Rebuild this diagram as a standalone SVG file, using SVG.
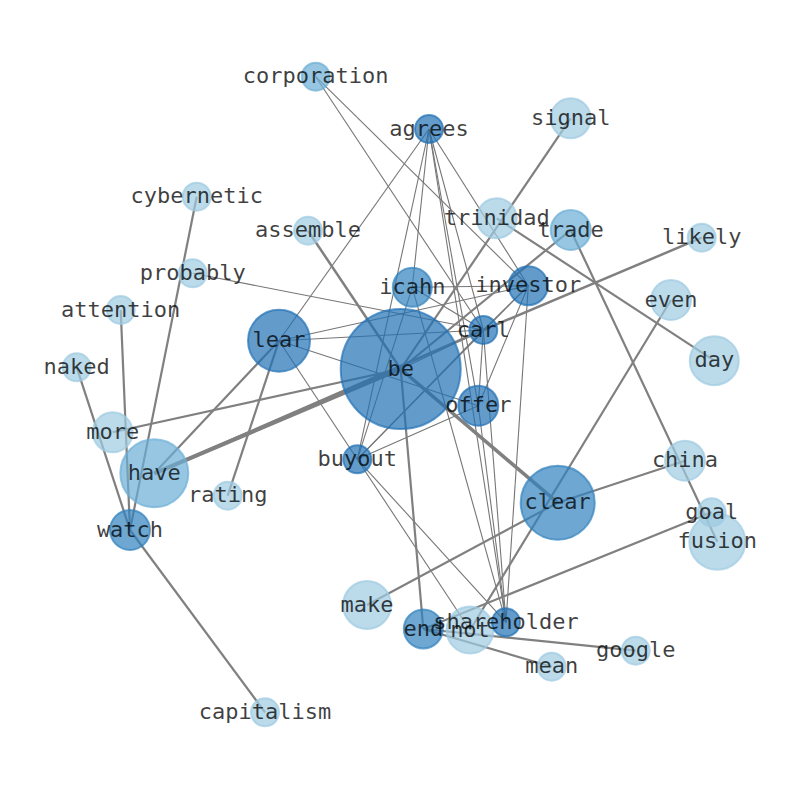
<svg xmlns="http://www.w3.org/2000/svg" width="794" height="790" viewBox="0 0 794 790">
<style>
.e{stroke:#808080;fill:none;stroke-linecap:butt}
.t{stroke-width:1.1;stroke:#767676}
.k{stroke-width:2.2}
.n circle{stroke-width:2;fill-opacity:0.7;stroke-opacity:0.7}
.L{fill:#9ecae1;stroke:#9ecae1}
.M{fill:#6baed6;stroke:#6baed6}
.D2{fill:#3182bd;stroke:#3182bd}
.D{fill:#2171b5;stroke:#2171b5}
text{font-family:"DejaVu Sans Mono",monospace;font-size:22px;fill:#000;fill-opacity:0.75;text-anchor:middle}
</style>
<rect width="794" height="790" fill="#fff"/>
<g id="edges">
<line class="e t" x1="315.7" y1="76.7" x2="483.3" y2="330"/>
<line class="e t" x1="315.7" y1="76.7" x2="528.3" y2="285.7"/>
<line class="e t" x1="429" y1="129" x2="279" y2="340.7"/>
<line class="e t" x1="429" y1="129" x2="357.3" y2="459.3"/>
<line class="e t" x1="429" y1="129" x2="412.3" y2="287.3"/>
<line class="e t" x1="429" y1="129" x2="478.3" y2="405.7"/>
<line class="e t" x1="429" y1="129" x2="483.3" y2="330"/>
<line class="e t" x1="429" y1="129" x2="528.3" y2="285.7"/>
<line class="e t" x1="429" y1="129" x2="506" y2="622.3"/>
<line class="e t" x1="412.3" y1="287.3" x2="528.3" y2="285.7"/>
<line class="e t" x1="412.3" y1="287.3" x2="483.3" y2="330"/>
<line class="e t" x1="412.3" y1="287.3" x2="506" y2="622.3"/>
<line class="e t" x1="412.3" y1="287.3" x2="357.3" y2="459.3"/>
<line class="e t" x1="192.7" y1="273.3" x2="483.3" y2="330"/>
<line class="e t" x1="279" y1="340.7" x2="528.3" y2="285.7"/>
<line class="e t" x1="279" y1="340.7" x2="483.3" y2="330"/>
<line class="e t" x1="279" y1="340.7" x2="478.3" y2="405.7"/>
<line class="e t" x1="279" y1="340.7" x2="470" y2="630"/>
<line class="e t" x1="357.3" y1="459.3" x2="506" y2="622.3"/>
<line class="e t" x1="357.3" y1="459.3" x2="478.3" y2="405.7"/>
<line class="e t" x1="357.3" y1="459.3" x2="483.3" y2="330"/>
<line class="e t" x1="357.3" y1="459.3" x2="528.3" y2="285.7"/>
<line class="e t" x1="483.3" y1="330" x2="528.3" y2="285.7"/>
<line class="e t" x1="483.3" y1="330" x2="400.7" y2="369"/>
<line class="e t" x1="483.3" y1="330" x2="478.3" y2="405.7"/>
<line class="e t" x1="483.3" y1="330" x2="506" y2="622.3"/>
<line class="e t" x1="478.3" y1="405.7" x2="528.3" y2="285.7"/>
<line class="e t" x1="478.3" y1="405.7" x2="506" y2="622.3"/>
<line class="e t" x1="528.3" y1="285.7" x2="506" y2="622.3"/>
<line class="e" stroke-width="2.5" x1="308" y1="230.7" x2="400.7" y2="369"/>
<line class="e" stroke-width="3.5" x1="400.7" y1="369" x2="557.7" y2="502.7"/>
<line class="e" stroke-width="4" x1="400.7" y1="369" x2="154.3" y2="473.3"/>
<line class="e" stroke-width="2.5" x1="154.3" y1="473.3" x2="483.3" y2="330"/>
<line class="e" stroke-width="2.5" x1="483.3" y1="330" x2="701.7" y2="237.7"/>
<line class="e k" x1="400.7" y1="369" x2="112.7" y2="432.3"/>
<line class="e k" x1="279" y1="340.7" x2="154.3" y2="473.3"/>
<line class="e k" x1="279" y1="340.7" x2="227.7" y2="495.7"/>
<line class="e k" x1="570.7" y1="118.3" x2="400.7" y2="369"/>
<line class="e k" x1="570.7" y1="230" x2="400.7" y2="369"/>
<line class="e k" x1="496.7" y1="218.3" x2="714.3" y2="360.7"/>
<line class="e k" x1="570.7" y1="230" x2="717.3" y2="541.7"/>
<line class="e k" x1="671" y1="300" x2="470" y2="630"/>
<line class="e k" x1="557.7" y1="502.7" x2="367" y2="605"/>
<line class="e k" x1="557.7" y1="502.7" x2="685" y2="460.7"/>
<line class="e k" x1="711.7" y1="512.3" x2="423.3" y2="629"/>
<line class="e k" x1="400.7" y1="369" x2="423.3" y2="629"/>
<line class="e k" x1="423.3" y1="629" x2="635.7" y2="650.7"/>
<line class="e k" x1="423.3" y1="629" x2="551.7" y2="666.7"/>
<line class="e k" x1="76.7" y1="367.3" x2="130" y2="530"/>
<line class="e k" x1="120.7" y1="310" x2="130" y2="530"/>
<line class="e k" x1="196.7" y1="196.7" x2="130" y2="530"/>
<line class="e k" x1="130" y1="530" x2="265" y2="712.3"/>
</g>
<g id="nodes" class="n">
<g id="n-corporation"><circle class="M" cx="315.7" cy="76.7" r="14"/></g>
<g id="n-agrees"><circle class="D" cx="429" cy="129" r="14"/></g>
<g id="n-signal"><circle class="L" cx="570.7" cy="118.3" r="20"/></g>
<g id="n-cybernetic"><circle class="L" cx="196.7" cy="196.7" r="14"/></g>
<g id="n-assemble"><circle class="L" cx="308" cy="230.7" r="14"/></g>
<g id="n-trinidad"><circle class="L" cx="496.7" cy="218.3" r="20"/></g>
<g id="n-trade"><circle class="M" cx="570.7" cy="230" r="20"/></g>
<g id="n-likely"><circle class="L" cx="701.7" cy="237.7" r="14"/></g>
<g id="n-probably"><circle class="L" cx="192.7" cy="273.3" r="14"/></g>
<g id="n-icahn"><circle class="D2" cx="412.3" cy="287.3" r="19.5"/></g>
<g id="n-investor"><circle class="D" cx="528.3" cy="285.7" r="19.5"/></g>
<g id="n-attention"><circle class="L" cx="120.7" cy="310" r="14"/></g>
<g id="n-even"><circle class="L" cx="671" cy="300" r="20"/></g>
<g id="n-lear"><circle class="D" cx="279" cy="340.7" r="31"/></g>
<g id="n-carl"><circle class="D" cx="483.3" cy="330" r="14"/></g>
<g id="n-be"><circle class="D" cx="400.7" cy="369" r="60"/></g>
<g id="n-naked"><circle class="L" cx="76.7" cy="367.3" r="14"/></g>
<g id="n-day"><circle class="L" cx="714.3" cy="360.7" r="24.5"/></g>
<g id="n-offer"><circle class="D" cx="478.3" cy="405.7" r="20"/></g>
<g id="n-more"><circle class="L" cx="112.7" cy="432.3" r="20"/></g>
<g id="n-buyout"><circle class="D" cx="357.3" cy="459.3" r="14"/></g>
<g id="n-have"><circle class="M" cx="154.3" cy="473.3" r="34"/></g>
<g id="n-china"><circle class="L" cx="685" cy="460.7" r="20"/></g>
<g id="n-rating"><circle class="L" cx="227.7" cy="495.7" r="14"/></g>
<g id="n-clear"><circle class="D2" cx="557.7" cy="502.7" r="37"/></g>
<g id="n-goal"><circle class="L" cx="711.7" cy="512.3" r="14"/></g>
<g id="n-fusion"><circle class="L" cx="717.3" cy="541.7" r="28"/></g>
<g id="n-watch"><circle class="D2" cx="130" cy="530" r="20"/></g>
<g id="n-make"><circle class="L" cx="367" cy="605" r="24"/></g>
<g id="n-end"><circle class="D2" cx="423.3" cy="629" r="19.5"/></g>
<g id="n-not"><circle class="L" cx="470" cy="630" r="23.5"/></g>
<g id="n-shareholder"><circle class="D" cx="506" cy="622.3" r="14"/></g>
<g id="n-google"><circle class="L" cx="635.7" cy="650.7" r="14"/></g>
<g id="n-mean"><circle class="L" cx="551.7" cy="666.7" r="14"/></g>
<g id="n-capitalism"><circle class="L" cx="265" cy="712.3" r="14"/></g>
</g>
<g id="labels">
<text x="315.7" y="83.3">corporation</text>
<text x="429" y="135.6">agrees</text>
<text x="570.7" y="124.9">signal</text>
<text x="196.7" y="203.3">cybernetic</text>
<text x="308" y="237.3">assemble</text>
<text x="496.7" y="224.9">trinidad</text>
<text x="570.7" y="236.6">trade</text>
<text x="701.7" y="244.3">likely</text>
<text x="192.7" y="279.9">probably</text>
<text x="412.3" y="293.9">icahn</text>
<text x="528.3" y="292.3">investor</text>
<text x="120.7" y="316.6">attention</text>
<text x="671" y="306.6">even</text>
<text x="279" y="347.3">lear</text>
<text x="483.3" y="336.6">carl</text>
<text x="400.7" y="375.6">be</text>
<text x="76.7" y="373.9">naked</text>
<text x="714.3" y="367.3">day</text>
<text x="478.3" y="412.3">offer</text>
<text x="112.7" y="438.9">more</text>
<text x="357.3" y="465.9">buyout</text>
<text x="154.3" y="479.9">have</text>
<text x="685" y="467.3">china</text>
<text x="227.7" y="502.3">rating</text>
<text x="557.7" y="509.3">clear</text>
<text x="711.7" y="518.9">goal</text>
<text x="717.3" y="548.3">fusion</text>
<text x="130" y="536.6">watch</text>
<text x="367" y="611.6">make</text>
<text x="423.3" y="635.6">end</text>
<text x="470" y="636.6">not</text>
<text x="506" y="628.9">shareholder</text>
<text x="635.7" y="657.3">google</text>
<text x="551.7" y="673.3">mean</text>
<text x="265" y="718.9">capitalism</text>
</g>
</svg>
